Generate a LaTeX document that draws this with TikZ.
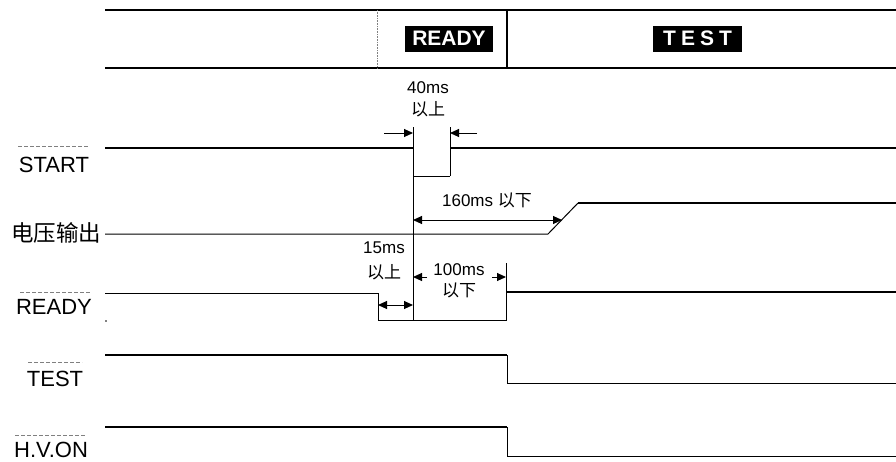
\documentclass[tikz,border=0pt]{standalone}
\usepackage{fontspec}
\setmainfont{Liberation Sans}
\newfontfamily\cjk{Noto Sans CJK SC}
\usetikzlibrary{arrows.meta}
\begin{document}
\begin{tikzpicture}[x=1pt,y=-1pt,
  hi/.style={line width=2pt},
  lo/.style={line width=1pt},
  grid/.style={line width=1.8pt},
  lbl/.style={anchor=base,inner sep=0pt,font=\fontsize{22}{22}\selectfont},
  tlbl/.style={anchor=base,inner sep=0pt,font=\fontsize{17}{17}\selectfont},
  bar/.style={line width=0.6pt,dash pattern=on 4pt off 2pt,gray},
  dim/.style={line width=1pt,-{Triangle[length=9pt,width=8pt]}},
  ddim/.style={line width=1pt,{Triangle[length=9pt,width=8pt]}-{Triangle[length=9pt,width=8pt]}},
  hdr/.style={fill=black,text=white,inner sep=0pt,minimum height=26pt,font=\fontsize{21}{21}\selectfont\bfseries}
]
\useasboundingbox (0,0) rectangle (896,461);
% header
\draw[grid] (105,10) -- (896,10);
\draw[grid] (105,68) -- (896,68);
\draw[line width=0.6pt,gray,densely dotted] (377,10) -- (377,68);
\draw[line width=1.5pt] (507,10) -- (507,68);
\node[hdr,minimum width=88pt] (hready) at (449,38.5) {READY};
\node[hdr,minimum width=89pt] (htest) at (697.5,38.5) {T\hspace{5pt}E\hspace{5pt}S\hspace{5pt}T};
% labels
\node[lbl] (lstart) at (54,172) {START};
\node[lbl,font=\fontsize{22.5}{22.5}\selectfont] (lvolt) at (56,241) {\cjk 电压输出};
\node[lbl] (lready) at (54,314) {READY};
\node[lbl] (ltest) at (55,386) {TEST};
\node[lbl] (lhv) at (51,457) {H.V.ON};
\draw[bar] (18,146) -- (88,146);
\draw[bar] (20,292) -- (90,292);
\draw[bar] (28,362) -- (82,362);
\draw[bar] (15,435) -- (85,435);
% START waveform
\coordinate (s0) at (105,148);
\coordinate (s1) at (413,148);
\coordinate (s2) at (413,176);
\coordinate (s3) at (450,176);
\coordinate (s4) at (450,148);
\coordinate (s5) at (896,148);
\draw[hi] (s0) -- (s1);
\draw[lo] (s2) -- (s3);
\draw[hi] (s4) -- (s5);
\draw[lo] (450,127) -- (s3);
% main marker line
\draw[lo] (413,127) -- (413,320);
% 40ms arrows
\coordinate (a40l) at (413,133);
\coordinate (a40r) at (450,133);
\draw[dim] (384,133) -- (a40l);
\draw[dim] (477,133) -- (a40r);
\node[tlbl] (t40a) at (428,93) {40ms};
\node[tlbl] (t40b) at (428,115) {\cjk 以上};
% voltage waveform
\coordinate (v0) at (105,234);
\coordinate (v1) at (548,234);
\coordinate (v2) at (578,203);
\coordinate (v3) at (896,203);
\draw[lo] (v0) -- (v1) -- (v2);
\draw[hi] (v2) -- (v3);
\draw[ddim] (413,220) -- (562,220);
\node[tlbl] (t160) at (487,206) {160ms \cjk 以下};
% READY waveform
\coordinate (r0) at (105,293);
\coordinate (r1) at (378,293);
\coordinate (r2) at (378,320);
\coordinate (r3) at (506,320);
\coordinate (r4) at (506,292);
\coordinate (r5) at (896,292);
\draw[lo] (r0) -- (r1) -- (r2) -- (r3) -- (r4);
\draw[lo] (506,263) -- (r4);
\draw[hi] (r4) -- (r5);
\fill (106,321) circle (0.8pt);
\draw[ddim] (378,305) -- (413,305);
\node[tlbl] (t15a) at (384,253) {15ms};
\node[tlbl] (t15b) at (384,278) {\cjk 以上};
\draw[dim] (427,277) -- (413,277);
\draw[dim] (492,277) -- (506,277);
\node[tlbl] (t100a) at (459,275) {100ms};
\node[tlbl] (t100b) at (459,296) {\cjk 以下};
% TEST waveform
\draw[hi] (105,355) -- (507,355);
\draw[lo] (507,355) -- (507,383) -- (896,383);
% H.V.ON waveform
\draw[hi] (105,427) -- (507,427);
\draw[lo] (507,427) -- (507,456) -- (896,456);
\end{tikzpicture}
\end{document}
